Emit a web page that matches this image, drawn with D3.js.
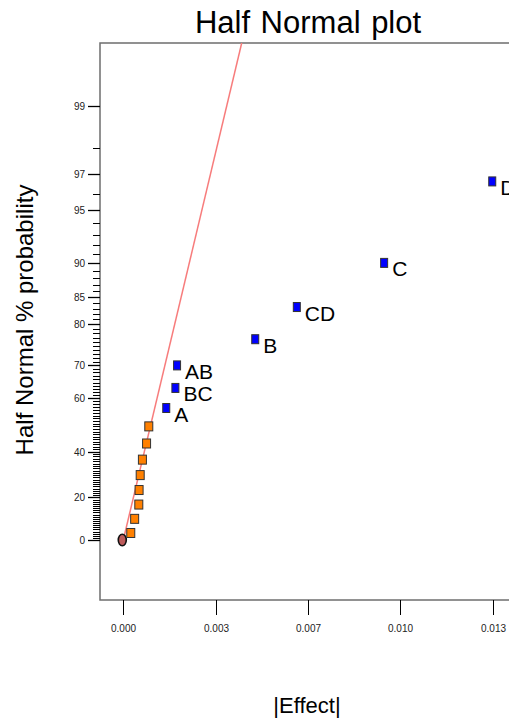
<!DOCTYPE html>
<html>
<head>
<meta charset="utf-8">
<script src="https://cdn.jsdelivr.net/npm/d3@7"></script>
<style>
  html, body { margin: 0; padding: 0; background: #fff; }
  svg { display: block; font-family: "Liberation Sans", Arial, sans-serif; }
</style>
</head>
<body>
<div id="chart"></div>
<script>
// effects, sorted by size (|Effect|), with their half normal % probability
const effectNames = ["", "", "", "", "", "", "", "", "A", "BC", "AB", "B", "CD", "C", "D"];
const effectSizes = [0.00027, 0.00041, 0.00056, 0.00057, 0.00061, 0.00069, 0.00084, 0.00092,
                     0.00155, 0.00188, 0.00194, 0.00476, 0.00626, 0.00941, 0.01331];
const effectProbs = [3.33, 10, 16.67, 23.33, 30, 36.67, 43.33, 50,
                     56.67, 63.33, 70, 76.67, 83.33, 90, 96.67];
const effectSelected = [false, false, false, false, false, false, false, false,
                        true, true, true, true, true, true, true];

// error point at origin
const originPoint = {effect: 0, prob: 0};

// line fitted through the small effects
const fitLine = [{effect: 0, prob: 0}, {effect: 0.00373, prob: 99}];

const yMajorTicks = [0, 20, 40, 60, 70, 80, 85, 90, 95, 97, 99];
const xTicks = [0, 1 / 300, 2 / 300, 3 / 300, 4 / 300];

const width = 509, height = 719;
const plot = {left: 100, top: 43, right: 516, bottom: 600};

// inverse normal cdf (Acklam)
function probit(p) {
  const a = [-3.969683028665376e+01, 2.209460984245205e+02, -2.759285104469687e+02, 1.383577518672690e+02, -3.066479806614716e+01, 2.506628277459239e+00];
  const b = [-5.447609879822406e+01, 1.615858368580409e+02, -1.556989798598866e+02, 6.680131188771972e+01, -1.328068155288572e+01];
  const c = [-7.784894002430293e-03, -3.223964580411365e-01, -2.400758277161838e+00, -2.549732539343734e+00, 4.374664141464968e+00, 2.938163982698783e+00];
  const d = [7.784695709041462e-03, 3.224671290700398e-01, 2.445134137142996e+00, 3.754408661907416e+00];
  const pl = 0.02425;
  let q, r;
  if (p < pl) {
    q = Math.sqrt(-2 * Math.log(p));
    return (((((c[0]*q+c[1])*q+c[2])*q+c[3])*q+c[4])*q+c[5]) / ((((d[0]*q+d[1])*q+d[2])*q+d[3])*q+1);
  } else if (p <= 1 - pl) {
    q = p - 0.5; r = q * q;
    return (((((a[0]*r+a[1])*r+a[2])*r+a[3])*r+a[4])*r+a[5])*q / (((((b[0]*r+b[1])*r+b[2])*r+b[3])*r+b[4])*r+1);
  } else {
    q = Math.sqrt(-2 * Math.log(1 - p));
    return -(((((c[0]*q+c[1])*q+c[2])*q+c[3])*q+c[4])*q+c[5]) / ((((d[0]*q+d[1])*q+d[2])*q+d[3])*q+1);
  }
}
// half normal: percent -> z
const halfZ = pct => pct <= 0 ? 0 : probit(0.5 + pct / 200);

const x = d3.scaleLinear().domain([-0.00084, 0.014167]).range([plot.left, plot.right]);
const yz = d3.scaleLinear().domain([-0.356, 2.95]).range([plot.bottom, plot.top]);
const y = pct => yz(halfZ(pct));

const svg = d3.select("#chart").append("svg")
    .attr("width", width)
    .attr("height", height)
    .attr("viewBox", [0, 0, width, height]);

svg.append("defs").append("clipPath")
    .attr("id", "plot-clip")
  .append("rect")
    .attr("x", plot.left)
    .attr("y", plot.top)
    .attr("width", plot.right - plot.left)
    .attr("height", plot.bottom - plot.top);

// title
svg.append("text")
    .attr("x", 308)
    .attr("y", 33)
    .attr("text-anchor", "middle")
    .attr("font-size", 31)
    .attr("word-spacing", 2)
    .text("Half Normal plot");

// frame
svg.append("rect")
    .attr("x", plot.left)
    .attr("y", plot.top)
    .attr("width", plot.right - plot.left)
    .attr("height", plot.bottom - plot.top)
    .attr("fill", "none")
    .attr("stroke", "#6e6e6e")
    .attr("stroke-width", 1.5);

// y ticks (minor every 1%)
const yMinor = d3.range(0, 99).filter(v => !yMajorTicks.includes(v));
svg.append("g")
    .attr("stroke", "#000")
    .attr("stroke-width", 1)
    .selectAll("line")
    .data(yMinor)
    .join("line")
    .attr("x1", plot.left - 7)
    .attr("x2", plot.left)
    .attr("y1", d => Math.round(y(d)) + 0.5)
    .attr("y2", d => Math.round(y(d)) + 0.5);

const yMaj = svg.append("g")
    .selectAll("g")
    .data(yMajorTicks)
    .join("g")
    .attr("transform", d => `translate(0,${Math.round(y(d)) + 0.5})`);
yMaj.append("line")
    .attr("x1", plot.left - 12)
    .attr("x2", plot.left)
    .attr("stroke", "#000")
    .attr("stroke-width", 1.3);
yMaj.append("text")
    .attr("x", plot.left - 15)
    .attr("dy", "0.35em")
    .attr("text-anchor", "end")
    .attr("font-size", 10)
    .attr("fill", "#222")
    .text(d => d);

// x ticks
const fmt = d3.format(".3f");
const xT = svg.append("g")
    .selectAll("g")
    .data(xTicks)
    .join("g")
    .attr("transform", d => `translate(${Math.round(x(d)) + 0.5},0)`);
xT.append("line")
    .attr("y1", plot.bottom)
    .attr("y2", plot.bottom + 15)
    .attr("stroke", "#000");
xT.append("text")
    .attr("y", plot.bottom + 32)
    .attr("text-anchor", "middle")
    .attr("font-size", 10)
    .attr("fill", "#222")
    .text(d => fmt(d));

// axis titles
svg.append("text")
    .attr("transform", "translate(33,320) rotate(-90)")
    .attr("text-anchor", "middle")
    .attr("font-size", 24)
    .text("Half Normal % probability");

svg.append("text")
    .attr("x", 307)
    .attr("y", 713)
    .attr("text-anchor", "middle")
    .attr("font-size", 22)
    .text("|Effect|");

const inner = svg.append("g").attr("clip-path", "url(#plot-clip)");

// fitted line, extended to the top of the plot
const slope = (halfZ(fitLine[1].prob) - halfZ(fitLine[0].prob)) / (fitLine[1].effect - fitLine[0].effect);
const topEffect = fitLine[0].effect + (yz.domain()[1] - halfZ(fitLine[0].prob)) / slope;
inner.append("line")
    .attr("x1", x(fitLine[0].effect))
    .attr("y1", y(fitLine[0].prob))
    .attr("x2", x(topEffect))
    .attr("y2", yz(yz.domain()[1]))
    .attr("stroke", "#f77c7c")
    .attr("stroke-width", 1.5);

const points = effectSizes.map((e, i) => ({
  effect: e, prob: effectProbs[i], name: effectNames[i], selected: effectSelected[i]
}));

// origin marker
inner.append("ellipse")
    .attr("cx", x(originPoint.effect) - 1)
    .attr("cy", y(originPoint.prob))
    .attr("rx", 4)
    .attr("ry", 5.8)
    .attr("fill", "#bd5b5b")
    .attr("stroke", "#111")
    .attr("stroke-width", 1.6);

inner.append("g")
    .selectAll("rect")
    .data(points)
    .join("rect")
    .attr("x", d => x(d.effect) - (d.selected ? 3.5 : 4))
    .attr("y", d => y(d.prob) - 4.5)
    .attr("width", d => d.selected ? 7 : 8)
    .attr("height", 9)
    .attr("fill", d => d.selected ? "#0000ff" : "#ff8000")
    .attr("stroke", "#333")
    .attr("stroke-width", 1);

svg.append("g")
    .selectAll("text")
    .data(points.filter(d => d.name))
    .join("text")
    .attr("x", d => x(d.effect) + 8)
    .attr("y", d => y(d.prob) + 13.5)
    .attr("font-size", 21)
    .text(d => d.name);
</script>
</body>
</html>
